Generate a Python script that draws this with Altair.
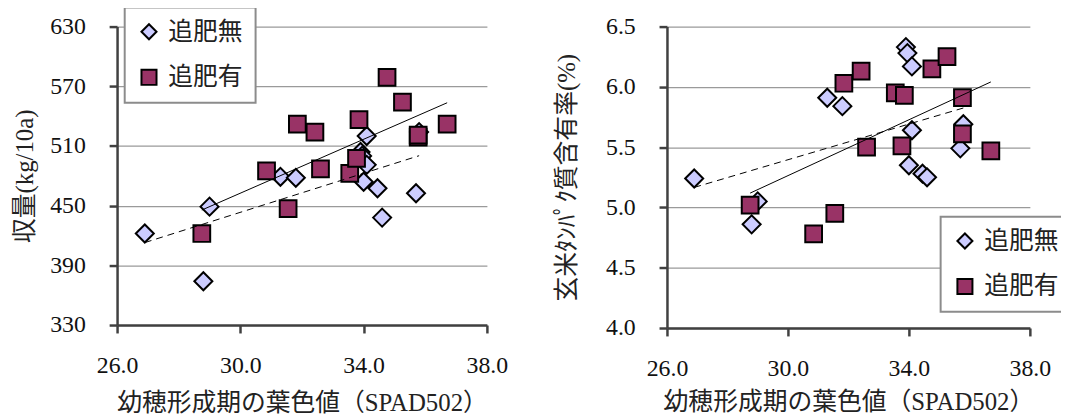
import altair as alt
import pandas as pd

groups = ["追肥無", "追肥有"]

# 追肥無 (diamonds)
spad_none = [26.9, 29.0, 28.8, 31.3, 31.8, 33.9, 33.95, 34.1, 34.1, 34.0, 34.45, 34.6, 35.7, 35.8]
yield_none = [422, 449, 374, 479, 478, 504, 500, 520, 491, 474, 467.5, 438, 462.5, 524]
protein_none = [5.24, 5.05, 4.86, 5.91, 5.84, 6.33, 6.28, 6.17, 5.64, 5.35, 5.28, 5.25, 5.49, 5.69]

# 追肥有 (squares)
spad_add = [28.75, 30.85, 31.55, 31.85, 32.42, 32.6, 33.55, 33.77, 33.85, 34.76, 35.26, 35.77, 35.77, 36.71]
yield_add = [422, 485, 447, 532, 524, 487, 482.5, 497.5, 536.5, 579, 554, 519, 521, 532]
protein_add = [5.02, 4.78, 4.95, 6.03, 6.13, 5.50, 5.95, 5.51, 5.93, 6.15, 6.25, 5.91, 5.61, 5.47]

x_ticks = [26, 30, 34, 38]
yield_ticks = [330, 390, 450, 510, 570, 630]
protein_ticks = [4.0, 4.5, 5.0, 5.5, 6.0, 6.5]

x_title = "幼穂形成期の葉色値（SPAD502）"
yield_title = "収量(kg/10a)"
protein_title = "玄米ﾀﾝﾊﾟｸ質含有率(%)"

rows = []
for x, y, p in zip(spad_none, yield_none, protein_none):
    rows.append({"spad": x, "yield": y, "protein": p, "group": groups[0]})
for x, y, p in zip(spad_add, yield_add, protein_add):
    rows.append({"spad": x, "yield": y, "protein": p, "group": groups[1]})
df = pd.DataFrame(rows)

label_font = "Liberation Serif"
title_font = "Liberation Serif, Noto Sans CJK JP"

shape_scale = alt.Scale(domain=groups, range=["diamond", "square"])
fill_scale = alt.Scale(domain=groups, range=["#CCCCFF", "#993366"])
stroke_scale = alt.Scale(domain=groups, range=["#000000", "#000000"])


def panel(field, ydomain, yticks, ytitle, legend_x, legend_y, width, height,
          title_pad, x_title_pad):
    base = alt.Chart(df)
    leg = alt.Legend(title=None, orient="none", legendX=legend_x, legendY=legend_y,
                     symbolStrokeWidth=2)
    x = alt.X(
        "spad:Q",
        scale=alt.Scale(domain=[26, 38], nice=False, zero=False),
        axis=alt.Axis(values=x_ticks, format=".1f", title=x_title, grid=False,
                      labelFont=label_font, labelPadding=21, titlePadding=x_title_pad,
                      labelFlush=False),
    )
    y = alt.Y(
        f"{field}:Q",
        scale=alt.Scale(domain=ydomain, nice=False, zero=False),
        axis=alt.Axis(values=yticks, format=".1f" if field == "protein" else "d",
                      title=ytitle, grid=True, labelFont=label_font, labelPadding=24,
                      titlePadding=title_pad, labelFlush=False),
    )
    enc = dict(
        x=x,
        y=y,
        shape=alt.Shape("group:N", scale=shape_scale, legend=leg),
        fill=alt.Fill("group:N", scale=fill_scale, legend=leg),
        stroke=alt.Stroke("group:N", scale=stroke_scale, legend=leg),
    )
    diamonds = base.transform_filter(alt.datum.group == groups[0]).mark_point(
        filled=True, strokeWidth=2, opacity=1, size=330
    ).encode(**enc)
    squares = base.transform_filter(alt.datum.group == groups[1]).mark_point(
        filled=True, strokeWidth=2, opacity=1, size=285
    ).encode(**enc)
    line_none = base.transform_filter(alt.datum.group == groups[0]).transform_regression(
        "spad", field
    ).mark_line(color="black", strokeWidth=1, strokeDash=[7, 5]).encode(
        x="spad:Q", y=f"{field}:Q"
    )
    line_add = base.transform_filter(alt.datum.group == groups[1]).transform_regression(
        "spad", field
    ).mark_line(color="black", strokeWidth=1).encode(
        x="spad:Q", y=f"{field}:Q"
    )
    return alt.layer(diamonds, squares, line_none, line_add).properties(width=width, height=height)


left = panel("yield", [330, 630], yield_ticks, yield_title, 7.7, -19.3, 373, 301, 12, 13)
right = panel("protein", [4.0, 6.5], protein_ticks, protein_title, 276, 191.7, 366, 304, 26, 9)

chart = (
    alt.hconcat(left, right, spacing=181.6, bounds="flush")
    .resolve_scale(shape="independent", fill="independent", stroke="independent")
    .resolve_legend(shape="independent", fill="independent", stroke="independent")
    .configure_view(strokeWidth=0)
    .configure_axis(
        labelFont=label_font,
        labelFontSize=24,
        labelColor="#111111",
        titleFont=title_font,
        titleFontSize=25,
        titleFontWeight="normal",
        titleColor="#222222",
        domainColor="#404040",
        domainWidth=2.5,
        tickColor="#404040",
        tickWidth=2.5,
        tickSize=8,
        gridColor="#9a9a9a",
        gridWidth=1.3,
    )
    .configure_legend(
        labelFont="Noto Sans CJK JP",
        labelFontSize=25,
        labelColor="#222222",
        symbolStrokeWidth=2,
        symbolSize=230,
        symbolOpacity=1,
        strokeColor="#8c8c8c",
        strokeWidth=2,
        fillColor="white",
        padding=12,
        rowPadding=20,
        labelOffset=7,
    )
    .properties(padding={"left": 5, "top": -4, "right": -12, "bottom": 0})
)

chart.save("out.html", embed_options={"renderer": "svg", "actions": False})
